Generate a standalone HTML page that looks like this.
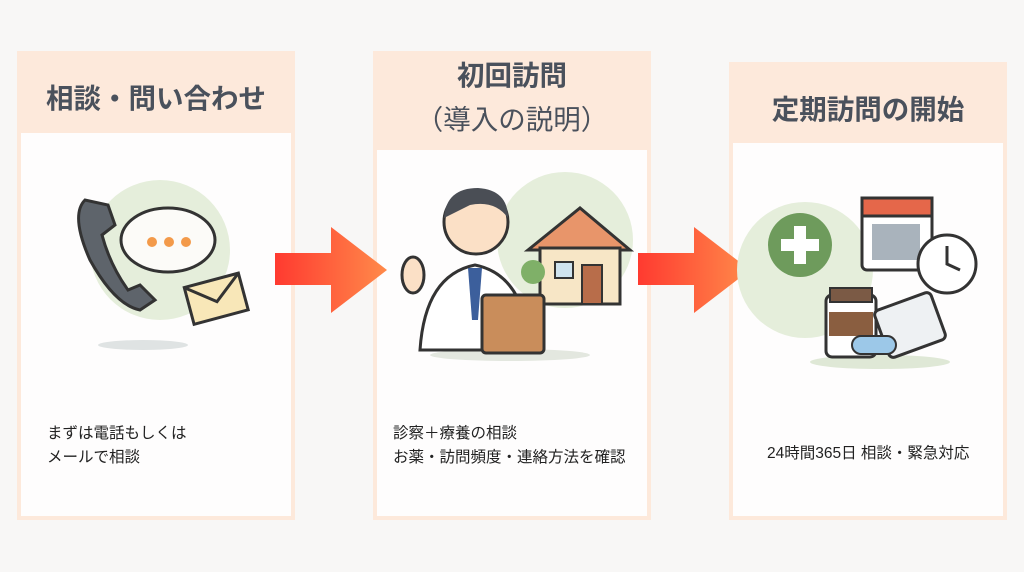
<!DOCTYPE html>
<html><head><meta charset="utf-8"><style>
body{margin:0;width:1024px;height:572px;background:#f8f7f6;position:relative;overflow:hidden;font-family:"Liberation Sans","Noto Sans CJK JP",sans-serif;}
.p{position:absolute;background:#fde9db;}
.in{position:absolute;left:4px;right:4px;bottom:4px;background:#fefdfd;}
.h{position:absolute;left:0;right:0;text-align:center;font-weight:bold;font-size:27.5px;color:#4a515c;}
.t{position:absolute;font-size:15.5px;color:#222;line-height:24px;}
svg{position:absolute}
</style></head><body>
<div class="p" style="left:17px;top:51px;width:278px;height:469px">
 <div class="h" style="top:25px">相談・問い合わせ</div>
 <div class="in" style="top:82px"></div>
</div>
<div class="p" style="left:373px;top:51px;width:278px;height:469px">
 <div class="h" style="top:3px;line-height:44px">初回訪問<br><span style="font-weight:normal">（導入の説明）</span></div>
 <div class="in" style="top:99px"></div>
</div>
<div class="p" style="left:729px;top:62px;width:278px;height:458px">
 <div class="h" style="top:25px">定期訪問の開始</div>
 <div class="in" style="top:81px"></div>
</div>
<div class="t" style="left:47px;top:422px">まずは電話もしくは<br>メールで相談</div>
<div class="t" style="left:393px;top:422px">診察＋療養の相談<br>お薬・訪問頻度・連絡方法を確認</div>
<div class="t" style="left:767px;top:442px">24時間365日 相談・緊急対応</div>
<svg width="1024" height="572" style="left:0;top:0">
<defs><linearGradient id="g" x1="0" x2="1"><stop offset="0" stop-color="#ff3a30"/><stop offset="1" stop-color="#ff8a4a"/></linearGradient></defs>
<polygon points="275,253 331,253 331,227 387,270 331,313 331,285 275,285" fill="url(#g)"/>
<polygon points="638,253 694,253 694,227 750,270 694,313 694,285 638,285" fill="url(#g)"/>
<!-- panel1 -->
<circle cx="160" cy="250" r="70" fill="#e5eedb"/>
<ellipse cx="143" cy="345" rx="45" ry="5" fill="#dfe3e3"/>
<path d="M85,200 Q70,215 90,260 Q115,305 140,310 L155,300 L140,285 L128,290 Q110,265 102,235 L115,225 L108,205 Z" fill="#5e646b" stroke="#333" stroke-width="3"/>
<ellipse cx="168" cy="240" rx="47" ry="32" fill="#fcfbf8" stroke="#333" stroke-width="3"/>
<circle cx="152" cy="242" r="5" fill="#f39a4a"/><circle cx="169" cy="242" r="5" fill="#f39a4a"/><circle cx="186" cy="242" r="5" fill="#f39a4a"/>
<g transform="rotate(-15 215 298)"><rect x="188" y="280" width="56" height="38" fill="#f8e7b8" stroke="#333" stroke-width="3"/><polyline points="188,280 216,302 244,280" fill="none" stroke="#333" stroke-width="3"/></g>
<!-- panel2 -->
<circle cx="565" cy="240" r="68" fill="#e5eedb"/>
<ellipse cx="510" cy="355" rx="80" ry="6" fill="#e3e7df"/>
<polygon points="528,250 580,208 630,250" fill="#e8956a" stroke="#333" stroke-width="3"/>
<rect x="540" y="248" width="80" height="56" fill="#f7e6c6" stroke="#333" stroke-width="3"/>
<rect x="582" y="265" width="20" height="39" fill="#b86d4a" stroke="#333" stroke-width="2"/>
<rect x="555" y="262" width="18" height="16" fill="#cfe3ee" stroke="#333" stroke-width="2"/>
<circle cx="533" cy="272" r="12" fill="#7fb068"/>
<path d="M420,350 Q425,275 475,265 Q525,275 530,350 Z" fill="#fff" stroke="#333" stroke-width="3"/>
<polygon points="468,268 482,268 478,320 472,320" fill="#3c5f9c"/>
<circle cx="476" cy="222" r="32" fill="#fbe0c6" stroke="#333" stroke-width="3"/>
<path d="M444,218 Q446,188 478,188 Q508,190 508,218 Q495,200 470,205 Z" fill="#4a4e55"/>
<rect x="482" y="295" width="62" height="58" rx="4" fill="#c98d5b" stroke="#333" stroke-width="3"/>
<ellipse cx="413" cy="275" rx="11" ry="18" fill="#fbe0c6" stroke="#333" stroke-width="3"/>
<!-- panel3 -->
<circle cx="805" cy="270" r="68" fill="#e5eedb"/>
<ellipse cx="880" cy="362" rx="70" ry="7" fill="#dfe8d6"/>
<circle cx="800" cy="245" r="32" fill="#6e9b5c"/>
<rect x="794" y="226" width="12" height="38" fill="#fff"/><rect x="781" y="239" width="38" height="12" fill="#fff"/>
<rect x="862" y="198" width="70" height="72" rx="5" fill="#fff" stroke="#333" stroke-width="3"/>
<rect x="862" y="198" width="70" height="18" fill="#e5674a" stroke="#333" stroke-width="3"/>
<g fill="#a9b3bc"><rect x="872" y="224" width="48" height="36"/></g>
<circle cx="947" cy="264" r="29" fill="#fff" stroke="#333" stroke-width="3"/>
<polyline points="947,246 947,264 960,270" fill="none" stroke="#333" stroke-width="3"/>
<rect x="826" y="295" width="50" height="62" rx="6" fill="#fff" stroke="#333" stroke-width="3"/>
<rect x="830" y="288" width="42" height="14" fill="#7b5a45" stroke="#333" stroke-width="2"/>
<rect x="829" y="312" width="44" height="24" fill="#8a5e40"/>
<g transform="rotate(-20 910 325)"><rect x="880" y="300" width="60" height="50" rx="5" fill="#eef1f3" stroke="#333" stroke-width="3"/></g>
<rect x="852" y="336" width="44" height="18" rx="9" fill="#9cc8e8" stroke="#333" stroke-width="2"/>
</svg>
</body></html>
